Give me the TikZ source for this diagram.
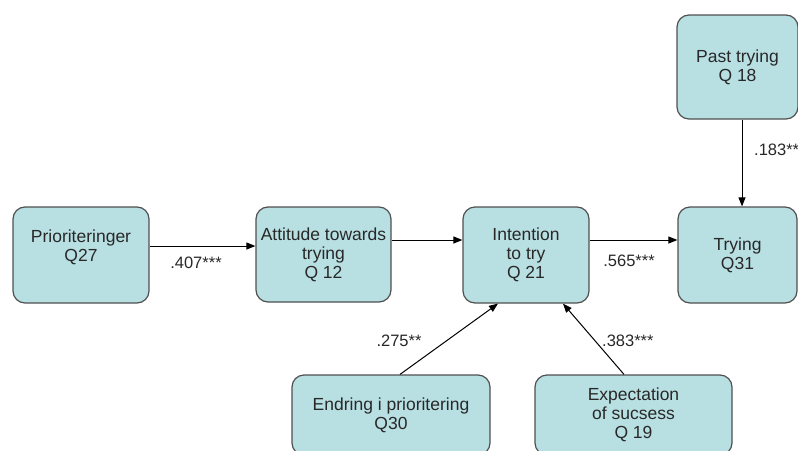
\documentclass[tikz,border=0pt]{standalone}
\usepackage{fontspec}
\setmainfont{Liberation Sans}
\usetikzlibrary{arrows.meta,calc}
\definecolor{boxfill}{RGB}{184,223,226}
\definecolor{boxline}{RGB}{80,80,80}
\definecolor{txt}{RGB}{40,40,40}
\tikzset{
  box/.style={rectangle, rounded corners=12pt, fill=boxfill, draw=boxline, line width=1.2pt,
    inner sep=0pt, align=center, text=txt, font=\fontsize{17.5}{19}\selectfont},
  conn/.style={draw=black, line width=1pt, -{Triangle[length=9pt,width=7pt]}},
  coef/.style={inner sep=0pt, text=txt, font=\fontsize{16.5}{18}\selectfont}
}
\begin{document}
\begin{tikzpicture}[x=1pt,y=-1pt]
\useasboundingbox (0,0) rectangle (798,450);
\node[box, minimum width=136pt, minimum height=96pt] (P) at (81,255) {Prioriteringer\\Q27\\~};
\node[box, minimum width=135pt, minimum height=95pt] (A) at (323.5,254.5) {Attitude towards\\trying\\Q 12};
\node[box, minimum width=126pt, minimum height=96pt] (I) at (526,255) {Intention\\to try\\Q 21};
\node[box, minimum width=119pt, minimum height=96pt] (T) at (737.5,255) {Trying\\Q31};
\node[box, minimum width=121pt, minimum height=104pt] (PT) at (737.5,67) {Past trying\\Q 18};
\node[box, minimum width=198pt, minimum height=80pt] (E) at (391,415) {Endring i prioritering\\Q30};
\node[box, minimum width=197pt, minimum height=80pt] (X) at (633.5,415) {Expectation\\of sucsess\\Q 19};

\draw[conn] ($(P.east)+(0,-9)$) -- ($(A.west)+(0,-8.5)$);
\draw[conn] ($(A.east)+(0,-14.5)$) -- ($(I.west)+(0,-15)$);
\draw[conn] ($(I.east)+(0,-15)$) -- ($(T.west)+(0,-15)$);
\draw[conn] ($(PT.south)+(4.5,0)$) -- ($(T.north)+(4.5,0)$);
\draw[conn] ($(E.north)+(9,0)$) -- ($(I.south)+(-28,0)$);
\draw[conn] ($(X.north)+(-9.5,0)$) -- ($(I.south)+(37,0)$);

\node[coef] (l1) at (196,263) {.407***};
\node[coef] (l2) at (629,261) {.565***};
\node[coef, anchor=west] (l3) at (754,150) {.183**};
\node[coef] (l4) at (399,341) {.275**};
\node[coef, anchor=west] (l5) at (602,341) {.383***};
\end{tikzpicture}
\end{document}
